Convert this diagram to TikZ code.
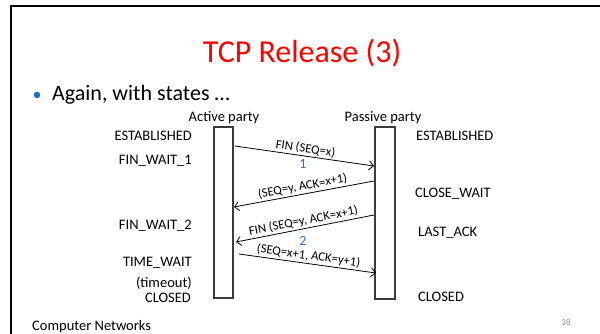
\documentclass[tikz,border=0pt]{standalone}
\usepackage{fontspec}
\setmainfont{Carlito}
\usetikzlibrary{arrows.meta}
\definecolor{titlered}{RGB}{255,0,0}
\definecolor{bulletblue}{RGB}{30,110,200}
\definecolor{numblue}{RGB}{40,110,210}
\definecolor{pagegray}{RGB}{140,140,140}
\definecolor{boxline}{RGB}{60,60,60}
\begin{document}
\begin{tikzpicture}[x=1pt,y=-1pt,
  lifeline/.style={draw=boxline,line width=1.2pt,fill=white},
  statel/.style={font=\fontsize{14.5}{16}\selectfont,inner sep=0pt,anchor=base east},
  stater/.style={font=\fontsize{14.5}{16}\selectfont,inner sep=0pt,anchor=base west},
  party/.style={font=\fontsize{14.5}{16}\selectfont,inner sep=0pt,anchor=base},
  msg/.style={draw=black,line width=0.8pt,-{Straight Barb[length=4.5pt,width=9pt]}},
  msglabel/.style={font=\fontsize{12.7}{15}\selectfont,inner sep=0pt,sloped,above=1.5pt},
  seqnum/.style={font=\fontsize{14}{16}\selectfont,text=numblue,inner sep=0pt}]
\useasboundingbox (0,0) rectangle (600,333);
% slide frame (left and top edges)
\draw[line width=2.2pt] (11,340) -- (11,6) -- (610,6);
% title and bullet
\node[font=\fontsize{32}{36}\selectfont,text=titlered,inner sep=0pt,anchor=base] (title) at (302,62) {TCP Release (3)};
\node[font=\fontsize{18}{22}\selectfont,text=bulletblue,inner sep=0pt,anchor=base] (bullet) at (37,100) {•};
\node[font=\fontsize{22}{26}\selectfont,inner sep=0pt,anchor=base west] (intro) at (52,100) {Again, with states …};
% parties
\node[party] (actlabel) at (224,121.5) {Active party};
\node[party] (paslabel) at (383,121.5) {Passive party};
\node[lifeline,minimum width=19pt,minimum height=171pt,inner sep=0pt] (active) at (223.5,212.5) {};
\node[lifeline,minimum width=20pt,minimum height=172pt,inner sep=0pt] (passive) at (385,213) {};
% states of the active party
\node[statel] (s1) at (192,140.7) {ESTABLISHED};
\node[statel] (s2) at (192,164.7) {FIN\_WAIT\_1};
\node[statel] (s3) at (192,229.7) {FIN\_WAIT\_2};
\node[statel] (s4) at (192,266.7) {TIME\_WAIT};
\node[statel] (s5) at (192,287.5) {(timeout)};
\node[statel] (s6) at (191,302.5) {CLOSED};
% states of the passive party
\node[stater] (r1) at (416,140.7) {ESTABLISHED};
\node[stater] (r2) at (415,197.7) {CLOSE\_WAIT};
\node[stater] (r3) at (418,236.7) {LAST\_ACK};
\node[stater] (r4) at (418,301.7) {CLOSED};
% message end points on the lifelines
\coordinate (a1) at (235,146);  \coordinate (p1) at (374,166);
\coordinate (p2) at (374,181);  \coordinate (a2) at (234,207);
\coordinate (p3) at (374,215);  \coordinate (a3) at (236,242);
\coordinate (a4) at (239,254);  \coordinate (p4) at (376,273);
% messages
\draw[msg] (a1) -- node[msglabel] {FIN (SEQ=x)} (p1);
\draw[msg] (p2) -- node[msglabel] {(SEQ=y, ACK=x+1)} (a2);
\draw[msg] (p3) -- node[msglabel] {FIN (SEQ=y, ACK=x+1)} (a3);
\draw[msg] (a4) -- node[msglabel] {(SEQ=x+1, ACK=y+1)} (p4);
\node[seqnum] (n1) at (303,164) {1};
\node[seqnum] (n2) at (303,240.5) {2};
% footer
\node[font=\fontsize{14.5}{16}\selectfont,inner sep=0pt,anchor=base west] (footer) at (32,330) {Computer Networks};
\node[font=\fontsize{9}{10}\selectfont,text=pagegray,inner sep=0pt] (page) at (566,322) {38};
\end{tikzpicture}
\end{document}
